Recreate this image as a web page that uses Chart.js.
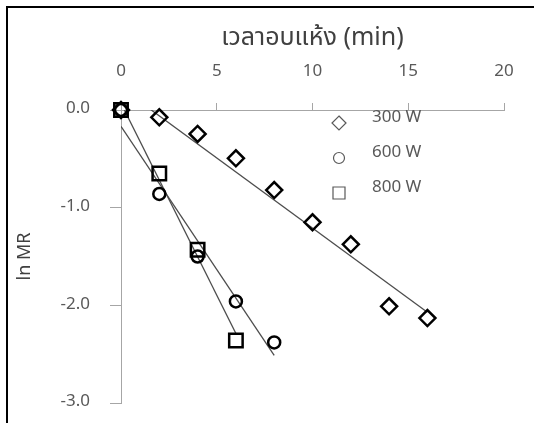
<!DOCTYPE html>
<html>
<head>
<meta charset="utf-8">
<script src="https://cdn.jsdelivr.net/npm/chart.js@4"></script>
<style>
  html, body { margin: 0; padding: 0; background: #fff; overflow: hidden; }
  #wrap { position: relative; width: 534px; height: 423px; overflow: hidden; }
  #frame { position: absolute; left: 6px; top: 6px; width: 600px; height: 600px; border: 2px solid #000; box-sizing: border-box; }
  #chart { position: absolute; left: 0; top: 0; }
</style>
</head>
<body>
<div id="wrap">
  <div id="frame"></div>
  <canvas id="chart" width="534" height="423"></canvas>
</div>
<script>
// ==========================
// データ
// ==========================
const time300 = [0, 2, 4, 6, 8, 10, 12, 14, 16];
const lnMR300 = [0, -0.075, -0.245, -0.495, -0.82, -1.15, -1.375, -2.01, -2.13];
const time600 = [0, 2, 4, 6, 8];
const lnMR600 = [0, -0.86, -1.50, -1.96, -2.38];
const time800 = [0, 2, 4, 6];
const lnMR800 = [0, -0.65, -1.43, -2.36];
const seriesNames = ["300 W", "600 W", "800 W"];
const xTicks = [0, 5, 10, 15, 20];
const yTicks = [0, -1, -2, -3];

const FONT = "'Noto Sans Thai', Tahoma, 'Noto Sans', 'DejaVu Sans', sans-serif";
const GREY = "#595959";
const AXIS = "#a6a6a6";

// ==========================
// 近似直線（最小二乗）
// ==========================
function linFit(xs, ys) {
  const n = xs.length;
  const mx = xs.reduce((a, b) => a + b, 0) / n;
  const my = ys.reduce((a, b) => a + b, 0) / n;
  let sxy = 0, sxx = 0;
  xs.forEach((x, i) => { sxy += (x - mx) * (ys[i] - my); sxx += (x - mx) * (x - mx); });
  const m = sxy / sxx;
  return { m, b: my - m * mx };
}
function trend(xs, ys) {
  const f = linFit(xs, ys);
  const x0 = xs[0], x1 = xs[xs.length - 1];
  return [{ x: x0, y: f.b + f.m * x0 }, { x: x1, y: f.b + f.m * x1 }];
}
const pts = (xs, ys) => xs.map((x, i) => ({ x, y: ys[i] }));

function markerSet(label, xs, ys, style, radius) {
  return {
    type: "scatter", label, data: pts(xs, ys), pointStyle: style, pointRadius: radius,
    pointBorderWidth: 2.5, pointBorderColor: "#000", pointBackgroundColor: "rgba(255,255,255,0)",
    showLine: false, clip: false, order: 0
  };
}
function trendSet(xs, ys) {
  return {
    type: "line", data: trend(xs, ys), borderColor: "#4d4d4d", borderWidth: 1.3,
    pointRadius: 0, fill: false, clip: 0, order: 1
  };
}

// ==========================
// 凡例（プロット内）
// ==========================
const legendInside = {
  id: "legendInside",
  afterDatasetsDraw(chart) {
    const ctx = chart.ctx;
    const styles = ["diamond", "circle", "square"];
    const ys = [123, 158, 193];
    ctx.save();
    ctx.strokeStyle = GREY;
    ctx.lineWidth = 1.2;
    ctx.fillStyle = GREY;
    ctx.font = "17px " + FONT;
    ctx.textBaseline = "middle";
    styles.forEach((s, i) => {
      const cx = 339, cy = ys[i];
      ctx.beginPath();
      if (s === "diamond") {
        ctx.moveTo(cx, cy - 7); ctx.lineTo(cx + 7, cy); ctx.lineTo(cx, cy + 7); ctx.lineTo(cx - 7, cy); ctx.closePath();
      } else if (s === "circle") {
        ctx.arc(cx, cy, 5.5, 0, Math.PI * 2);
      } else {
        ctx.rect(cx - 6, cy - 6, 12, 12);
      }
      ctx.stroke();
      ctx.fillText(seriesNames[i], 372, cy - 4);
    });
    ctx.restore();
  }
};

document.addEventListener("DOMContentLoaded", () => {
  const ctx = document.getElementById("chart").getContext("2d");
  new Chart(ctx, {
    data: {
      datasets: [
        markerSet(seriesNames[0], time300, lnMR300, "rectRot", 8),
        markerSet(seriesNames[1], time600, lnMR600, "circle", 6),
        markerSet(seriesNames[2], time800, lnMR800, "rect", 9.5),
        trendSet(time300, lnMR300),
        trendSet(time600, lnMR600),
        trendSet(time800, lnMR800)
      ]
    },
    options: {
      responsive: false,
      animation: false,
      layout: { padding: { left: 8, top: 8, right: 30, bottom: 20 } },
      plugins: { legend: { display: false }, tooltip: { enabled: false } },
      scales: {
        x: {
          type: "linear", position: "top", min: 0, max: 20,
          afterBuildTicks: s => { s.ticks = xTicks.map(v => ({ value: v })); },
          afterFit: s => { s.height = 102; s.paddingLeft = 0; s.paddingRight = 0; },
          ticks: { color: GREY, font: { family: FONT, size: 17 }, padding: 20 },
          grid: { drawOnChartArea: false, tickLength: 7, color: AXIS },
          border: { color: AXIS },
          title: { display: true, text: "เวลาอบแห้ง (min)", color: "#404040",
                   font: { family: FONT, size: 25 }, padding: { top: 17 } }
        },
        y: {
          type: "linear", min: -3, max: 0,
          afterBuildTicks: s => { s.ticks = yTicks.map(v => ({ value: v })); },
          afterFit: s => { s.width = 113; s.paddingTop = 0; s.paddingBottom = 0; },
          ticks: { color: GREY, font: { family: FONT, size: 17 }, padding: 20,
                   callback: v => v.toFixed(1) },
          grid: { drawOnChartArea: false, tickLength: 11, color: AXIS },
          border: { color: AXIS },
          title: { display: true, text: "ln MR", color: "#404040",
                   font: { family: FONT, size: 18 }, padding: { top: 8 } }
        }
      }
    },
    plugins: [legendInside]
  });
});
</script>
</body>
</html>
